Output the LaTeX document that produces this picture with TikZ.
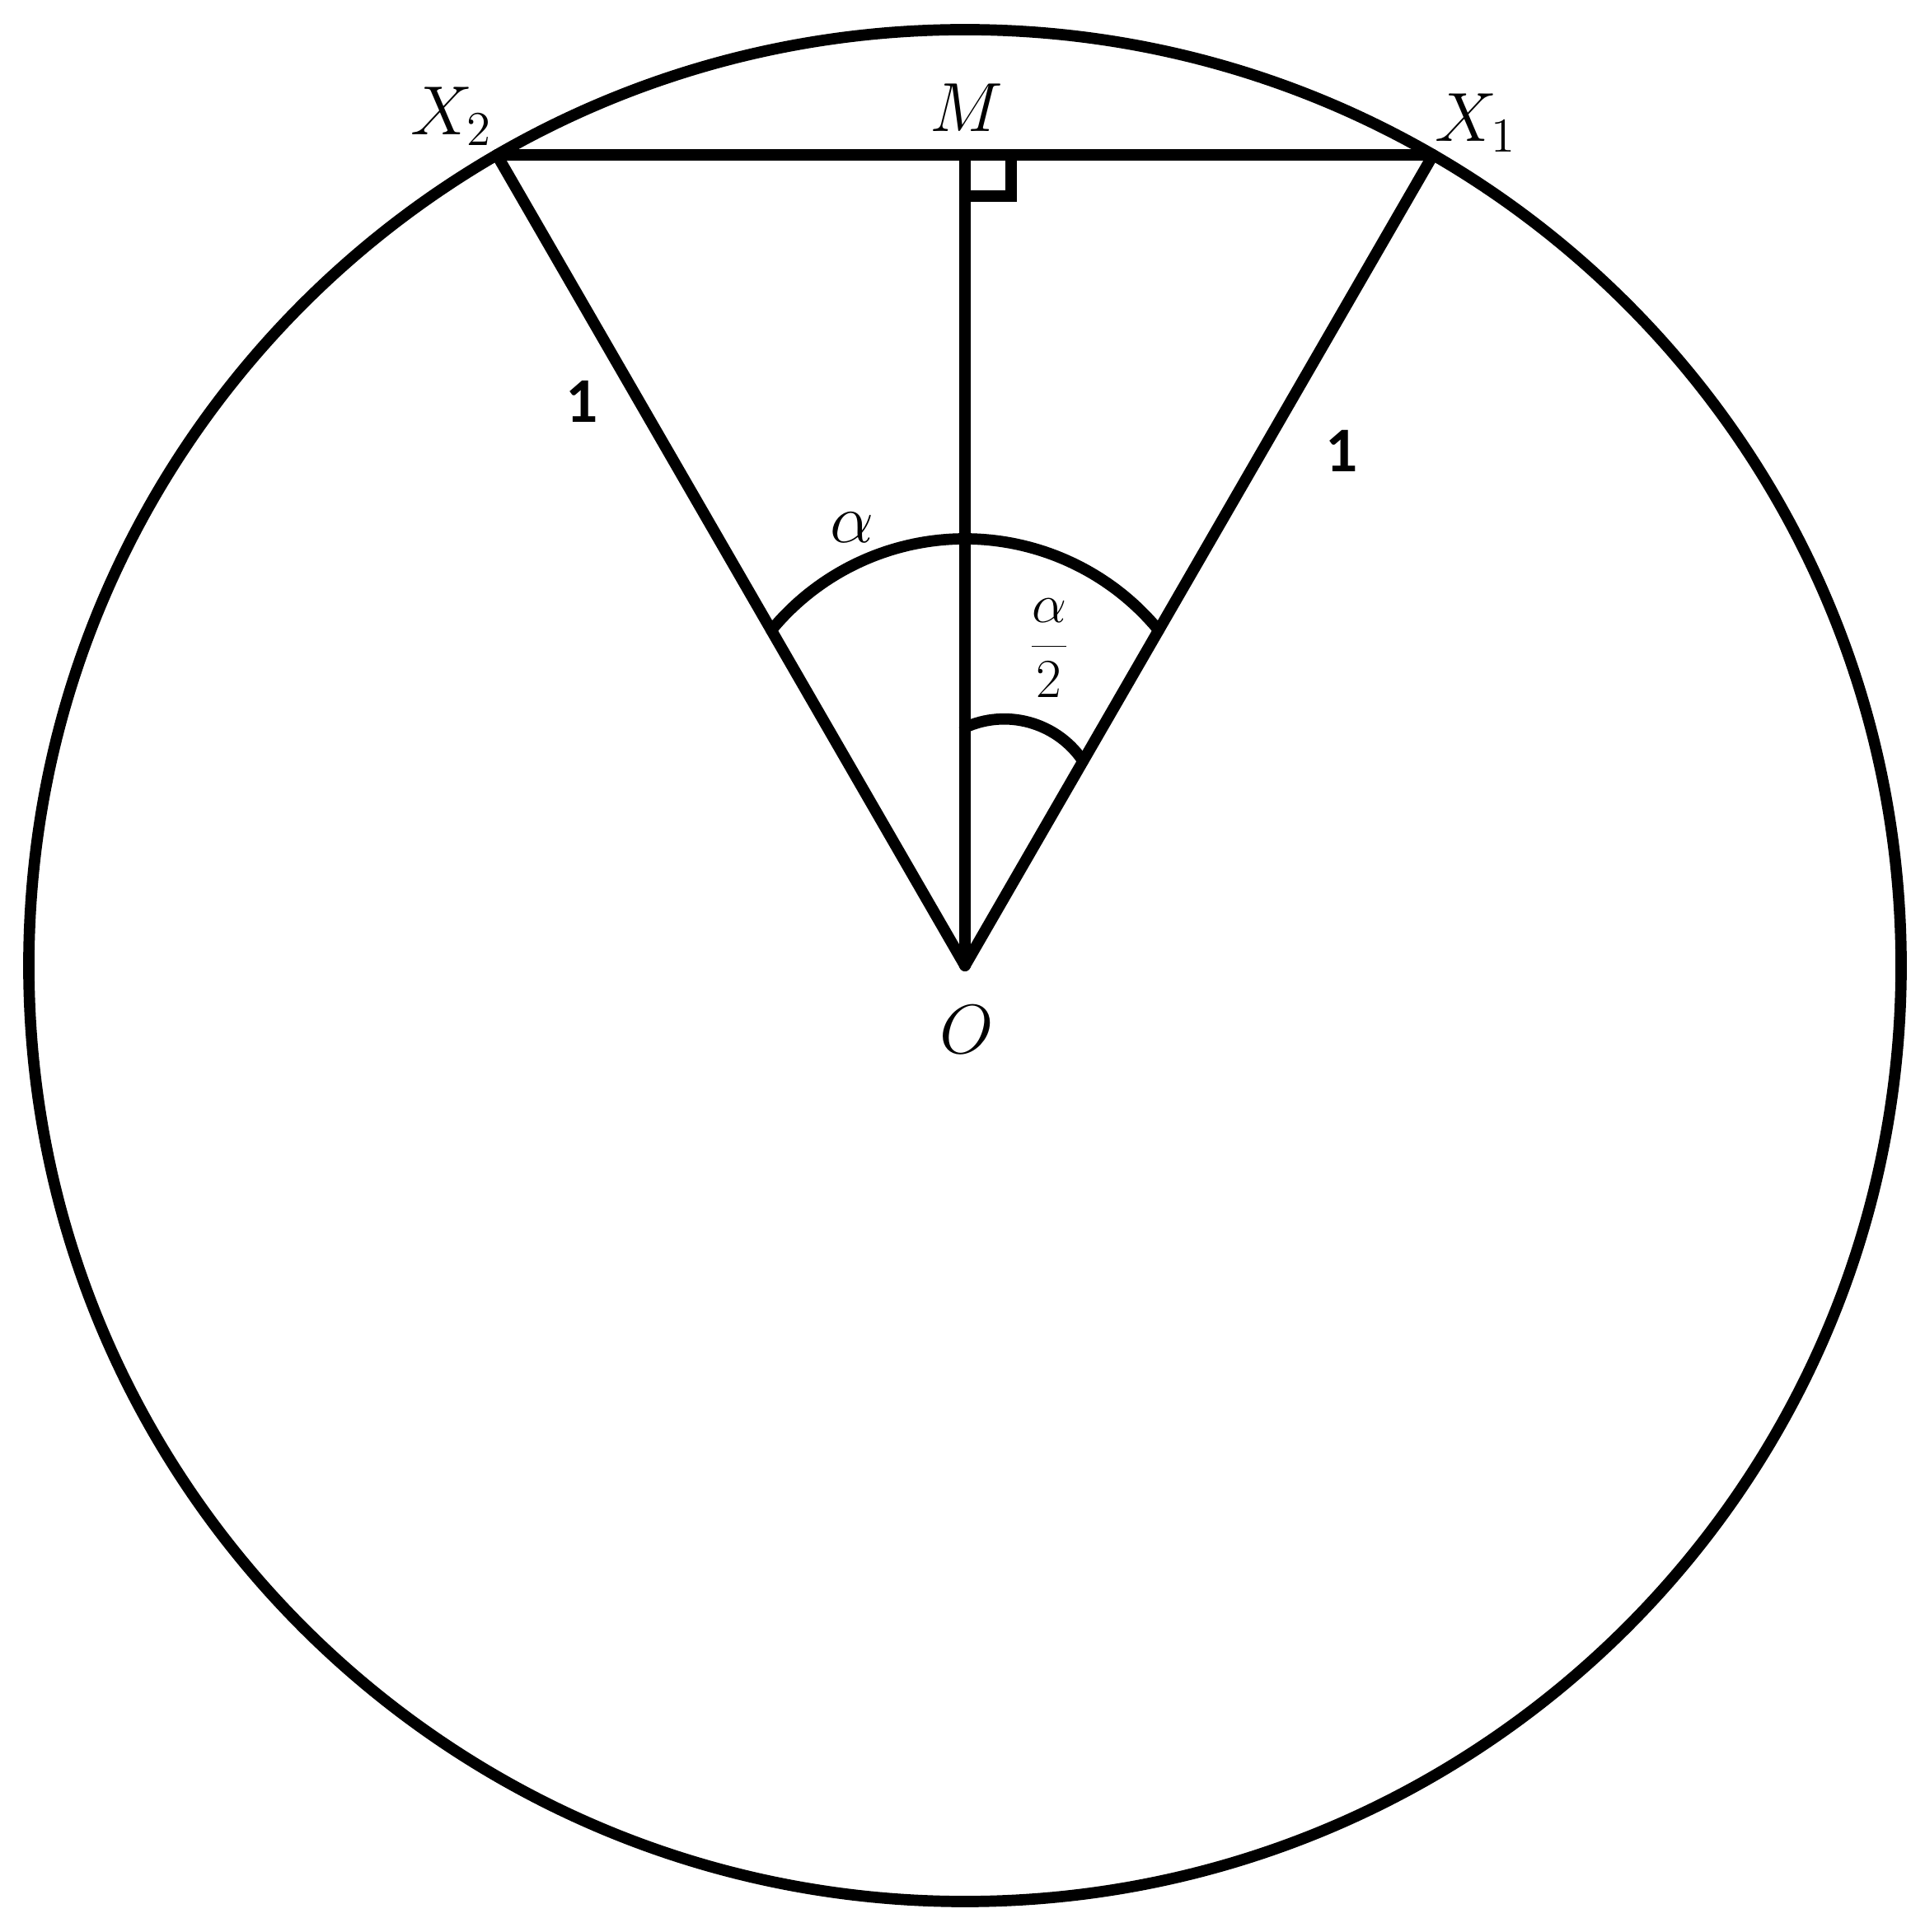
\documentclass[tikz,border=0pt]{standalone}
\usepackage{fix-cm}
\usepackage{fontspec}
\newfontfamily\digitfont{Carlito}
\usepackage{tikz}
\usetikzlibrary{calc}
\usetikzlibrary{positioning}
\tikzset{
    geom/.style = {line width=3.9pt, draw=black, line cap=round, line join=round},
    ptlabel/.style = {font=\fontsize{24}{28}\selectfont, inner sep=0pt},
    fraclabel/.style = {font=\fontsize{19}{22}\selectfont, inner sep=0pt},
    sidelabel/.style = {font=\digitfont\bfseries\fontsize{22}{26}\selectfont, inner sep=0pt},
}

\begin{document}
\begin{tikzpicture}
\useasboundingbox (-11.71,-11.73) rectangle (11.64,11.72);
%
\coordinate (o) at (0,0);
\coordinate (x1) at (60:11.36);
\coordinate (x2) at (120:11.36);
\coordinate (m) at ($(x1)!0.5!(x2)$);
\coordinate (bigc) at (0,2.137);
\coordinate (smallc) at (0.476,1.842);
%
\draw[geom] (o) circle (11.36);
\draw[geom] (x2) -- (x1);
\draw[geom] (o) -- (x1);
\draw[geom] (o) -- (x2);
\draw[geom] (o) -- (m);
\draw[geom, line join=miter] ($(m)+(0.56,0)$) |- ($(m)+(0,-0.495)$);
%
\draw[geom] ([shift={(39.44:3.043)}]bigc) arc[start angle=39.44, end angle=140.56, radius=3.043];
\draw[geom] ([shift={(35.1:1.151)}]smallc) arc[start angle=35.1, end angle=114.6, radius=1.151];
%
\node[ptlabel] at (-6.23,10.31) (lx2) {$X_2$};
\node[ptlabel] at (6.20,10.23) (lx1) {$X_1$};
\node[ptlabel] at (0.02,10.41) (lm) {$M$};
\node[ptlabel] at (0.02,-0.78) (lo) {$O$};
\node[ptlabel] at (-1.37,5.32) (lalpha) {$\alpha$};
\node[fraclabel] at (1.02,3.85) (lhalf) {$\displaystyle\frac{\alpha}{2}$};
%
\node[sidelabel] at (-4.65,6.85) (sleft) {1};
\node[sidelabel] at (4.57,6.25) (sright) {1};
\end{tikzpicture}
\end{document}
